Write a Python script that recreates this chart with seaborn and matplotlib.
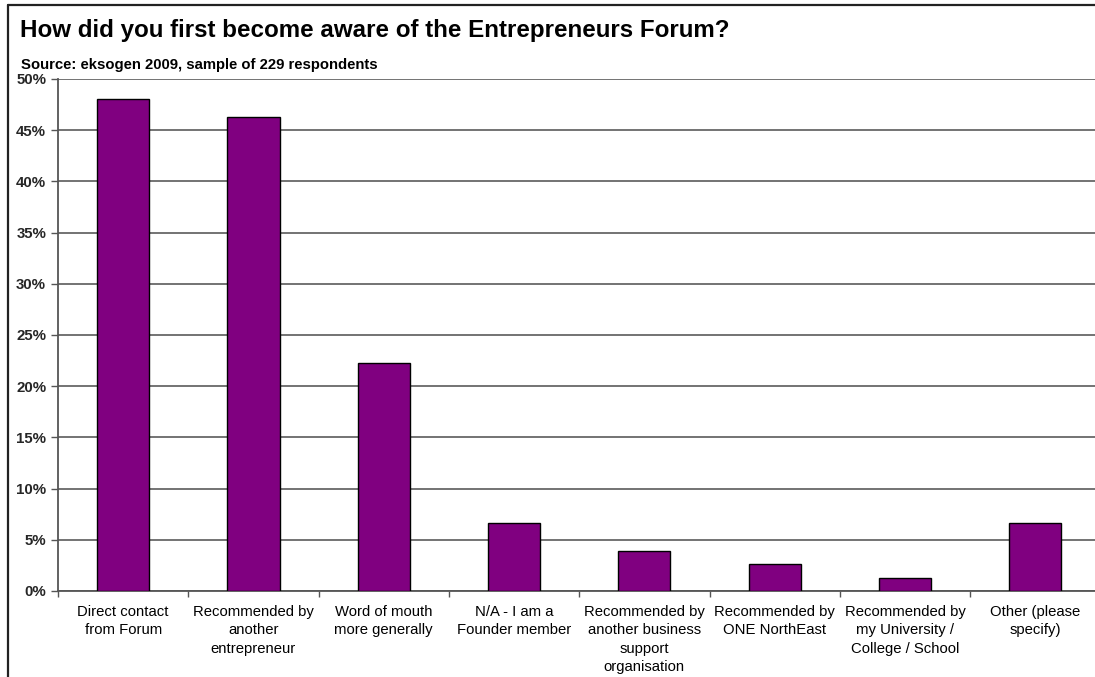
import matplotlib
matplotlib.use("Agg")
import matplotlib.pyplot as plt
from matplotlib.lines import Line2D
from matplotlib.ticker import FuncFormatter, MultipleLocator
import seaborn as sns
import pandas as pd

# Survey answers and share of respondents (%)
categories = [
    "Direct contact\nfrom Forum",
    "Recommended by\nanother\nentrepreneur",
    "Word of mouth\nmore generally",
    "N/A - I am a\nFounder member",
    "Recommended by\nanother business\nsupport\norganisation",
    "Recommended by\nONE NorthEast",
    "Recommended by\nmy University /\nCollege / School",
    "Other (please\nspecify)",
]
shares = [48.0, 46.3, 22.3, 6.6, 3.9, 2.6, 1.3, 6.6]

title = "How did you first become aware of the Entrepreneurs Forum?"
subtitle = "Source: eksogen 2009, sample of 229 respondents"

sns.set_theme(style="white")
plt.rcParams["font.family"] = ["Liberation Sans", "DejaVu Sans"]

W, H = 1095, 677
fig = plt.figure(figsize=(W / 100, H / 100), dpi=100)
fig.patch.set_facecolor("white")

left, right = 58 / W, 1100.5 / W
top, bottom = 1 - 79 / H, 1 - 591 / H
ax = fig.add_axes([left, bottom, right - left, top - bottom])

df = pd.DataFrame({"answer": categories, "share": shares})
sns.barplot(data=df, x="answer", y="share", color="#800080", saturation=1,
            edgecolor="black", linewidth=1.0, width=0.4, ax=ax, zorder=3)

ax.set_xlim(-0.5, len(categories) - 0.5)
ax.set_ylim(0, 50)
ax.yaxis.set_major_locator(MultipleLocator(5))
ax.yaxis.set_major_formatter(FuncFormatter(lambda v, p: f"{v:.0f}%"))
ax.grid(axis="y", color="#4d4d4d", linewidth=1.1, zorder=0)
ax.set_axisbelow(True)
ax.set_xlabel("")
ax.set_ylabel("")

for s in ("top", "right"):
    ax.spines[s].set_visible(False)
for s in ("left", "bottom"):
    ax.spines[s].set_color("#555555")
    ax.spines[s].set_linewidth(1.3)

# ticks on category boundaries, labels at category centres
ax.set_xticks([i + 0.5 for i in range(-1, len(categories))], minor=True)
ax.tick_params(axis="x", which="minor", direction="out", length=4, width=1,
               color="#555555", bottom=True)
ax.tick_params(axis="x", which="major", length=0, pad=10, labelsize=10.7,
               labelcolor="black")
ax.tick_params(axis="y", direction="out", length=5, width=1, color="#555555",
               left=True, pad=3.5, labelsize=10.8)
for lbl in ax.get_yticklabels():
    lbl.set_fontweight("bold")
for lbl in ax.get_xticklabels():
    lbl.set_linespacing(1.4)
    lbl.set_va("top")

fig.text(20 / W, 1 - 31 / H, title, fontsize=17.4, fontweight="bold",
         ha="left", va="center", color="black")
fig.text(21 / W, 1 - 65.5 / H, subtitle, fontsize=10.7, fontweight="bold",
         ha="left", va="center", color="black")

# outer chart frame
fig.add_artist(Line2D([8 / W, 8 / W], [-0.01, 1 - 5 / H], color="#222222",
                      linewidth=1.6, transform=fig.transFigure))
fig.add_artist(Line2D([8 / W, 1.01], [1 - 5 / H, 1 - 5 / H], color="#222222",
                      linewidth=1.6, transform=fig.transFigure))

fig.savefig("out.png", dpi=100)
